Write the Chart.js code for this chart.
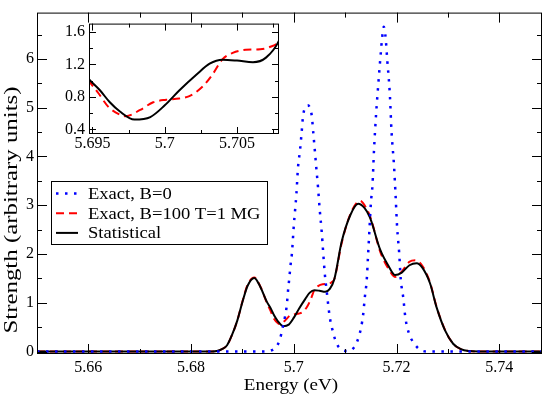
<!DOCTYPE html>
<html>
<head>
<meta charset="utf-8">
<script src="https://cdn.jsdelivr.net/npm/chart.js@4.4.1/dist/chart.umd.min.js"></script>
<style>
  body { margin: 0; background: #fff; }
  #wrap { position: relative; width: 545px; height: 396px; }
  #main { position: absolute; left: 0; top: 0; }
  #inset { position: absolute; left: 40px; top: 10px; }
</style>
</head>
<body>
<div id="wrap">
  <canvas id="main" width="545" height="396" style="width:545px;height:396px"></canvas>
  <canvas id="inset" width="245" height="148" style="width:245px;height:148px"></canvas>
</div>
<script>
// Exact, B=0 (puntos azules)
const exactB0Energy = [5.650, 5.6944, 5.6955, 5.6961, 5.6966, 5.6971, 5.6975, 5.6979, 5.6983, 5.6986,
  5.6989, 5.6991, 5.6994, 5.6996, 5.7000, 5.7005, 5.7008, 5.7012, 5.7015, 5.7018,
  5.7022, 5.7027, 5.7032, 5.7035, 5.7038, 5.7041, 5.7044, 5.7047, 5.7050, 5.7054,
  5.7060, 5.7064, 5.7070, 5.7077, 5.7083, 5.7093, 5.7103, 5.7113, 5.7123, 5.7131,
  5.7135, 5.7138, 5.7142, 5.7144, 5.7146, 5.7148, 5.7150, 5.7153, 5.7156, 5.7160,
  5.7165, 5.7169, 5.7172, 5.7175, 5.7178, 5.7182, 5.7187, 5.7190, 5.7195, 5.7198,
  5.7201, 5.7205, 5.7208, 5.7213, 5.7217, 5.7224, 5.7234, 5.7245, 5.7252, 5.7260, 5.7483];
const exactB0Strength = [0, 0, 0.02, 0.05, 0.10, 0.20, 0.34, 0.53, 0.73, 0.93,
  1.29, 1.49, 1.82, 1.99, 2.60, 3.24, 3.77, 4.13, 4.48, 4.84,
  5.00, 5.05, 4.98, 4.82, 4.46, 4.10, 3.73, 3.37, 2.95, 2.48,
  1.62, 1.23, 0.70, 0.37, 0.17, 0.04, 0.01, 0.04, 0.20, 0.50,
  0.77, 1.10, 1.49, 1.89, 2.28, 2.68, 3.06, 3.41, 4.13, 4.86,
  5.57, 6.10, 6.45, 6.66, 6.50, 5.95, 5.24, 4.53, 3.80, 3.20,
  2.55, 2.02, 1.49, 1.10, 0.70, 0.37, 0.17, 0.04, 0.01, 0, 0];

// Exact, B=100 T=1 MG (rayas rojas)
const exactB100Energy = [5.650, 5.684, 5.685, 5.686, 5.687, 5.688, 5.689, 5.690, 5.691, 5.6923,
  5.6935, 5.6947, 5.6954, 5.6961, 5.6969, 5.6973, 5.6983, 5.6992, 5.7001, 5.7010,
  5.7017, 5.7026, 5.7033, 5.7040, 5.7047, 5.7056, 5.7066, 5.7073, 5.7079, 5.7093,
  5.7110, 5.7129, 5.7140, 5.7150, 5.7168, 5.7184, 5.7197, 5.7210, 5.7225, 5.7236,
  5.7250, 5.7265, 5.7278, 5.7294, 5.7310, 5.7325, 5.7340, 5.7360, 5.7483];
const exactB100Strength = [0, 0, 0.01, 0.05, 0.13, 0.35, 0.64, 1.03, 1.37, 1.52,
  1.33, 1.01, 0.848, 0.677, 0.582, 0.563, 0.639, 0.734, 0.765, 0.78,
  0.81, 0.924, 1.076, 1.266, 1.342, 1.38, 1.387, 1.418, 1.494, 2.22,
  2.82, 3.09, 2.96, 2.72, 2.05, 1.70, 1.53, 1.64, 1.84, 1.87,
  1.76, 1.42, 0.91, 0.45, 0.16, 0.05, 0.01, 0, 0];

// Statistical (línea negra)
const statEnergy = [5.650, 5.684, 5.685, 5.686, 5.687, 5.688, 5.689, 5.690, 5.691, 5.6923,
  5.6935, 5.6947, 5.6955, 5.6962, 5.6969, 5.6979, 5.6990, 5.7000, 5.7010, 5.7022,
  5.7031, 5.7040, 5.7050, 5.7061, 5.7070, 5.7079, 5.7093, 5.7110, 5.7125, 5.7137,
  5.7148, 5.7168, 5.7184, 5.7197, 5.7210, 5.7225, 5.7239, 5.7250, 5.7265, 5.7278,
  5.7294, 5.7310, 5.7325, 5.7340, 5.7360, 5.7483];
const statStrength = [0, 0, 0.01, 0.05, 0.13, 0.35, 0.64, 1.02, 1.35, 1.51,
  1.32, 1.03, 0.885, 0.734, 0.62, 0.521, 0.552, 0.696, 0.879, 1.076,
  1.209, 1.258, 1.247, 1.227, 1.284, 1.494, 2.25, 2.80, 3.03, 2.95,
  2.75, 2.09, 1.76, 1.57, 1.62, 1.77, 1.81, 1.72, 1.40, 0.90,
  0.44, 0.16, 0.05, 0.01, 0, 0];

// Marcas de los ejes
const mainXTicks = [5.66, 5.68, 5.70, 5.72, 5.74];
const mainXMinor = [5.67, 5.69, 5.71, 5.73];
const mainYTicks = [0, 1, 2, 3, 4, 5, 6];
const mainYMinor = [0.5, 1.5, 2.5, 3.5, 4.5, 5.5, 6.5];
const insetXTicks = [5.695, 5.700, 5.705];
const insetXMinor = [5.6975, 5.7025, 5.7075];
const insetYTicks = [0.4, 0.8, 1.2, 1.6];
const insetYMinor = [0.6, 1.0, 1.4];

const serif = '"Liberation Serif", "Times New Roman", serif';

function toPoints(es, ss) {
    return es.map((e, i) => ({ x: e, y: ss[i] }));
}

function makeDatasets() {
    return [
        { label: 'Exact, B=0', data: toPoints(exactB0Energy, exactB0Strength),
          borderColor: '#0000ff', borderWidth: 2.5, borderDash: [2.5, 6.5], order: 0 },
        { label: 'Exact, B=100 T=1 MG', data: toPoints(exactB100Energy, exactB100Strength),
          borderColor: '#ff0000', borderWidth: 2, borderDash: [8, 5], order: 2 },
        { label: 'Statistical', data: toPoints(statEnergy, statStrength),
          borderColor: '#000000', borderWidth: 2, order: 1 },
    ].map(d => Object.assign(d, { pointRadius: 0, fill: false, cubicInterpolationMode: 'monotone' }));
}

function axis(min, max, ticks, size, pad, fit, isX) {
    return {
        type: 'linear', min: min, max: max,
        grid: { display: false, drawTicks: false },
        border: { display: false },
        afterBuildTicks: s => { s.ticks = ticks.map(v => ({ value: v })); },
        afterFit: s => { if (isX) s.height = fit; else s.width = fit; },
        ticks: {
            font: { family: serif, size: size }, color: '#000', padding: pad,
            maxRotation: 0, autoSkip: false,
            callback: v => String(+v.toFixed(4))
        }
    };
}

// Marco con marcas hacia dentro (estilo xmgrace)
const frameTicks = {
    id: 'frameTicks',
    beforeDatasetsDraw(chart, args, o) {
        if (!o.fill) return;
        const a = chart.chartArea;
        chart.ctx.save();
        chart.ctx.fillStyle = o.fill;
        chart.ctx.fillRect(a.left, a.top, a.right - a.left, a.bottom - a.top);
        chart.ctx.restore();
    },
    afterDatasetsDraw(chart, args, o) {
        const { ctx, chartArea: a, scales: { x, y } } = chart;
        ctx.save();
        ctx.strokeStyle = o.color;
        ctx.lineWidth = o.width;
        ctx.beginPath();
        const xt = (vals, len) => vals.forEach(v => {
            const p = Math.round(x.getPixelForValue(v)) + 0.5;
            ctx.moveTo(p, a.bottom); ctx.lineTo(p, a.bottom - len);
            ctx.moveTo(p, a.top); ctx.lineTo(p, a.top + len);
        });
        const yt = (vals, len) => vals.forEach(v => {
            const p = Math.round(y.getPixelForValue(v)) + 0.5;
            ctx.moveTo(a.left, p); ctx.lineTo(a.left + len, p);
            ctx.moveTo(a.right, p); ctx.lineTo(a.right - len, p);
        });
        xt(o.xMajor, o.major); xt(o.xMinor, o.minor);
        yt(o.yMajor, o.major); yt(o.yMinor, o.minor);
        ctx.stroke();
        ctx.strokeRect(a.left + 0.5, a.top + 0.5, a.right - a.left - 1, a.bottom - a.top - 1);
        ctx.restore();
    }
};

// Titulos de ejes y leyenda del grafico principal
const titlesLegend = {
    id: 'titlesLegend',
    afterDraw(chart) {
        const ctx = chart.ctx;
        ctx.save();
        ctx.fillStyle = '#000';
        ctx.textBaseline = 'alphabetic';

        ctx.save();
        ctx.font = '17px ' + serif;
        ctx.textAlign = 'center';
        ctx.translate(291, 389.5);
        ctx.scale(1.12, 1);
        ctx.fillText('Energy (eV)', 0, 0);
        ctx.restore();

        ctx.save();
        ctx.font = '18px ' + serif;
        ctx.textAlign = 'center';
        ctx.translate(16.5, 210);
        ctx.rotate(-Math.PI / 2);
        ctx.scale(1.38, 1);
        ctx.fillText('Strength (arbitrary units)', 0, 0);
        ctx.restore();

        // leyenda
        ctx.fillStyle = '#fff';
        ctx.fillRect(52, 182, 215, 62);
        ctx.strokeStyle = '#000';
        ctx.lineWidth = 1;
        ctx.strokeRect(51.5, 181.5, 216, 63);
        ctx.font = '16.5px ' + serif;
        ctx.textAlign = 'left';
        chart.data.datasets.forEach((d, i) => {
            const cy = 193.5 + i * 19.7;
            ctx.save();
            ctx.strokeStyle = d.borderColor;
            ctx.lineWidth = d.borderWidth;
            ctx.setLineDash(d.borderDash || []);
            ctx.beginPath();
            ctx.moveTo(56, cy); ctx.lineTo(78, cy);
            ctx.stroke();
            ctx.restore();
            ctx.save();
            ctx.fillStyle = '#000';
            ctx.translate(88, cy + 5.5);
            ctx.scale(1.125, 1);
            ctx.fillText(d.label, 0, 0);
            ctx.restore();
        });
        ctx.restore();
    }
};

new Chart(document.getElementById('main'), {
    type: 'line',
    data: { datasets: makeDatasets() },
    options: {
        responsive: false, animation: false, devicePixelRatio: 1,
        layout: { padding: { top: 1, right: 3, left: 0, bottom: 0 } },
        scales: {
            x: axis(5.65, 5.7483, mainXTicks, 16, 4, 42, true),
            y: axis(-0.05, 6.95, mainYTicks, 16, 3, 37, false)
        },
        plugins: {
            legend: { display: false }, tooltip: { enabled: false },
            frameTicks: { color: '#000', width: 1, major: 10, minor: 5,
                xMajor: mainXTicks, xMinor: mainXMinor, yMajor: mainYTicks, yMinor: mainYMinor }
        }
    },
    plugins: [frameTicks, titlesLegend]
});

// El recuadro solo muestra las curvas roja y negra
new Chart(document.getElementById('inset'), {
    type: 'line',
    data: { datasets: makeDatasets().slice(1) },
    options: {
        responsive: false, animation: false, devicePixelRatio: 1,
        layout: { padding: { top: 5, right: 6, left: 0, bottom: 0 } },
        scales: {
            x: axis(5.69476, 5.7079, insetXTicks, 16, 0, 24, true),
            y: axis(0.343, 1.703, insetYTicks, 16, 4, 49, false)
        },
        plugins: {
            legend: { display: false }, tooltip: { enabled: false },
            frameTicks: { fill: '#fff', color: '#000', width: 1, major: 7, minor: 4,
                xMajor: insetXTicks, xMinor: insetXMinor, yMajor: insetYTicks, yMinor: insetYMinor }
        }
    },
    plugins: [frameTicks]
});
</script>
</body>
</html>
